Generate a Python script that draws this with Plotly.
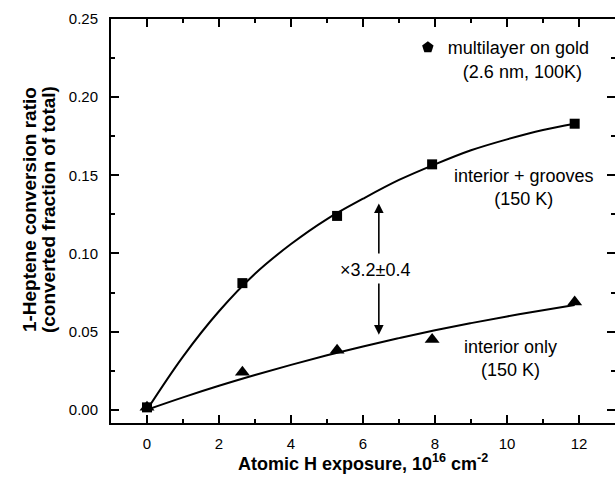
import plotly.graph_objects as go

# ---- data ----
grooves_x = [0, 2.65, 5.28, 7.92, 11.88]
grooves_y = [0.0015, 0.081, 0.124, 0.157, 0.183]
interior_x = [0, 2.65, 5.28, 7.92, 11.88]
interior_y = [0.0015, 0.024, 0.038, 0.045, 0.069]

# fitted curves as drawn in the reference
fit_x = [0, 1, 2, 3, 4, 5, 6, 7, 8, 9, 10, 11, 11.88]
fit_grooves_y = [0.000, 0.034, 0.063, 0.087, 0.106, 0.122, 0.135, 0.147, 0.157, 0.166, 0.173, 0.179, 0.183]
fit_interior_y = [0.000, 0.0079, 0.0153, 0.0222, 0.0287, 0.0348, 0.0405, 0.0458, 0.0508, 0.0554, 0.0597, 0.0637, 0.0670]

x_ticks = [0, 2, 4, 6, 8, 10, 12]
y_ticks = [0.00, 0.05, 0.10, 0.15, 0.20, 0.25]
y_tick_text = ["0.00", "0.05", "0.10", "0.15", "0.20", "0.25"]

FONT = "Liberation Sans, Arial, sans-serif"
X_RANGE = [-1, 13]
Y_RANGE = [-0.0085, 0.25]

fig = go.Figure()

fig.add_trace(go.Scatter(x=fit_x, y=fit_grooves_y, mode="lines", line=dict(color="black", width=2, shape="spline"),
                         showlegend=False, hoverinfo="skip"))
fig.add_trace(go.Scatter(x=fit_x, y=fit_interior_y, mode="lines", line=dict(color="black", width=2, shape="spline"),
                         showlegend=False, hoverinfo="skip"))
fig.add_trace(go.Scatter(x=grooves_x, y=grooves_y, mode="markers",
                         marker=dict(symbol="square", size=10, color="black"), showlegend=False))
fig.add_trace(go.Scatter(x=interior_x, y=interior_y, mode="markers",
                         marker=dict(symbol="triangle-up", size=13, color="black"), showlegend=False))
# legend-only entry for the multilayer
fig.add_trace(go.Scatter(x=[None], y=[None], mode="markers",
                         marker=dict(symbol="pentagon", size=12, color="black"),
                         name="multilayer on gold<br>\u00a0\u00a0\u00a0(2.6 nm, 100K)", showlegend=True))
# invisible trace to carry the right-hand mirrored ticks
fig.add_trace(go.Scatter(x=[None], y=[None], yaxis="y2", showlegend=False, hoverinfo="skip"))

# arrows and labels
fig.add_annotation(x=6.44, y=0.132, ax=6.44, ay=0.099, xref="x", yref="y", axref="x", ayref="y",
                   showarrow=True, arrowhead=2, arrowsize=1.2, arrowwidth=1.6, arrowcolor="black", text="")
fig.add_annotation(x=6.44, y=0.048, ax=6.44, ay=0.0817, xref="x", yref="y", axref="x", ayref="y",
                   showarrow=True, arrowhead=2, arrowsize=1.2, arrowwidth=1.6, arrowcolor="black", text="")
fig.add_annotation(x=6.34, y=0.0892, text="×3.2±0.4", showarrow=False,
                   font=dict(family=FONT, size=18, color="black"))
fig.add_annotation(x=10.48, y=0.142, text="interior + grooves<br>(150 K)", showarrow=False,
                   font=dict(family=FONT, size=18, color="black"), align="center")
fig.add_annotation(x=10.1, y=0.0325, text="interior only<br>(150 K)", showarrow=False,
                   font=dict(family=FONT, size=18, color="black"), align="center")

# axis titles
fig.add_annotation(x=-82 / 504, y=0.527, xref="paper", yref="paper", xanchor="center", yanchor="middle",
                   text="<b>1-Heptene conversion ratio</b>",
                   textangle=-90, showarrow=False, font=dict(family=FONT, size=19, color="black"))
fig.add_annotation(x=-63 / 504, y=0.527, xref="paper", yref="paper", xanchor="center", yanchor="middle",
                   text="<b>(converted fraction of total)</b>",
                   textangle=-90, showarrow=False, font=dict(family=FONT, size=19, color="black"))
fig.add_annotation(x=0.5, y=-39 / 404, xref="paper", yref="paper", xanchor="center", yanchor="middle",
                   text="<b>Atomic H exposure, 10<sup>16</sup> cm<sup>-2</sup></b>",
                   showarrow=False, font=dict(family=FONT, size=18, color="black"))

fig.update_layout(
    width=615, height=478,
    margin=dict(l=111, r=0, t=19, b=55),
    paper_bgcolor="white", plot_bgcolor="white",
    font=dict(family=FONT, size=15, color="black"),
    legend=dict(x=0.589, y=0.975, xanchor="left", yanchor="top", bgcolor="rgba(0,0,0,0)",
                font=dict(family=FONT, size=18, color="black"), valign="top", itemwidth=30),
    xaxis=dict(range=X_RANGE, tickvals=x_ticks, ticks="inside", ticklen=8, tickwidth=1.5, tickcolor="black",
               showline=True, linewidth=2, linecolor="black", mirror="ticks", showgrid=False, zeroline=False,
               minor=dict(dtick=1, tick0=0, ticks="inside", ticklen=4, tickwidth=1.5, tickcolor="black"),
               tickfont=dict(family=FONT, size=15), ticklabelstandoff=6),
    yaxis=dict(range=Y_RANGE, tickvals=y_ticks, ticktext=y_tick_text, ticks="inside", ticklen=8, tickwidth=1.5,
               tickcolor="black", showline=True, linewidth=2, linecolor="black", showgrid=False, zeroline=False,
               minor=dict(dtick=0.025, tick0=0, ticks="inside", ticklen=4, tickwidth=1.5, tickcolor="black"),
               tickfont=dict(family=FONT, size=15), ticklabelstandoff=8),
    yaxis2=dict(range=Y_RANGE, overlaying="y", side="right", tickvals=y_ticks, showticklabels=False,
                ticks="inside", ticklen=8, tickwidth=1.5, tickcolor="black", showline=False, showgrid=False,
                zeroline=False,
                minor=dict(dtick=0.025, tick0=0, ticks="inside", ticklen=4, tickwidth=1.5, tickcolor="black")),
)

fig.write_html("out.html")
